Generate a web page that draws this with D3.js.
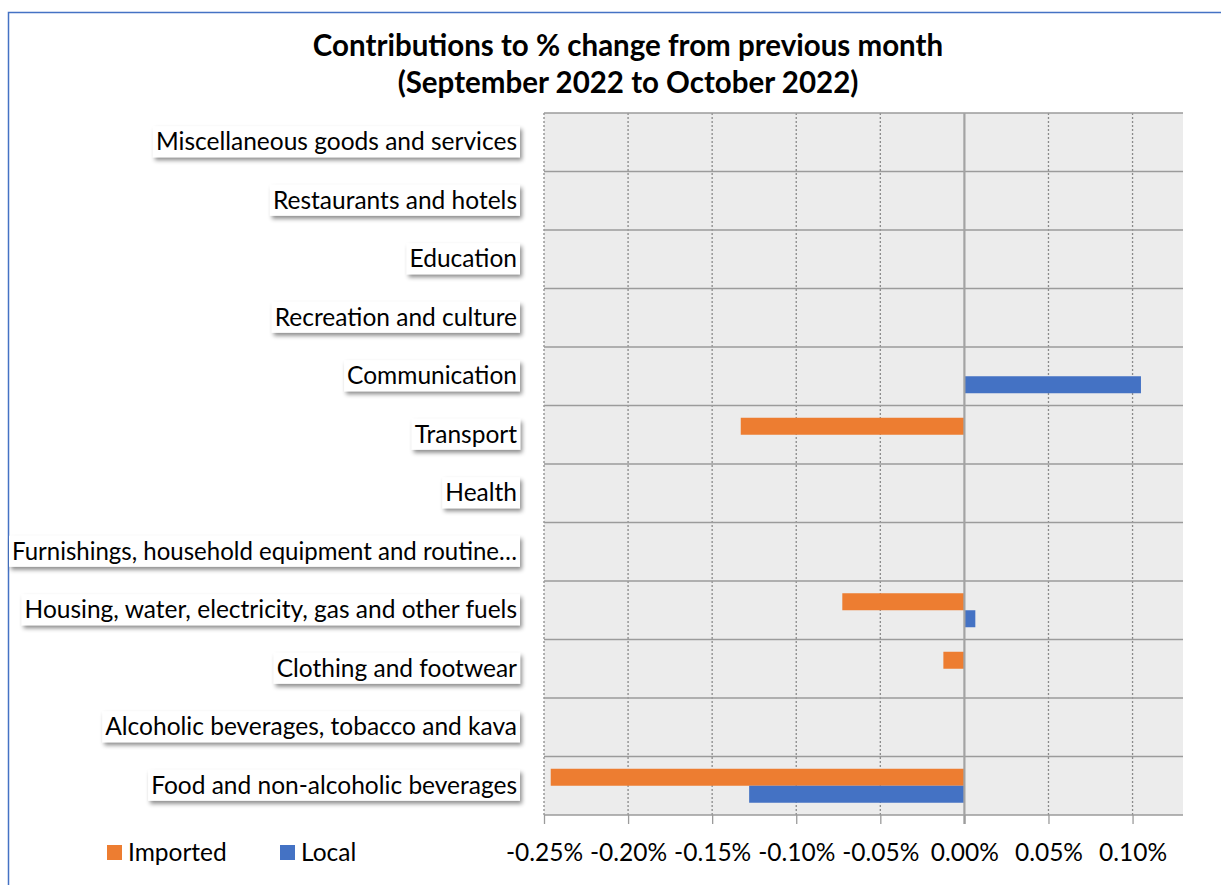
<!DOCTYPE html>
<html lang="en">
<head>
    <meta charset="UTF-8">
    <title>Contributions to % change</title>
    <style>
        body { margin: 0; background: #fff; }
        svg { display: block; font-family: Lato, "Noto Sans", sans-serif; }
    </style>
</head>
<body>
<svg></svg>
<script src="https://d3js.org/d3.v7.min.js"></script>
<script>
    /* data (top row first), values in % */
    const categories = [
        "Miscellaneous goods and services",
        "Restaurants and hotels",
        "Education",
        "Recreation and culture",
        "Communication",
        "Transport",
        "Health",
        "Furnishings, household equipment and routine\u2026",
        "Housing, water, electricity, gas and other fuels",
        "Clothing and footwear",
        "Alcoholic beverages, tobacco and kava",
        "Food and non-alcoholic beverages"
    ];
    const seriesNames = ["Imported", "Local"];
    const imported = [0, 0, 0, 0, 0, -0.133, 0, 0, -0.0726, -0.0125, 0, -0.246];
    const local = [0, 0, 0, 0, 0.105, 0, 0, 0, 0.0065, 0, 0, -0.128];
    const tickValues = [-0.25, -0.20, -0.15, -0.10, -0.05, 0, 0.05, 0.10];
    const colors = ["#ed7d31", "#4472c4"];

    /* layout */
    const width = 1221;
    const height = 885;
    const plot = {left: 544, right: 1183, top: 113, bottom: 815};
    const labelSize = 24.5;
    const maxLabelWidth = 505;

    const svg = d3.select("svg")
        .attr("width", width)
        .attr("height", height);

    const defs = svg.append("defs");
    defs.append("filter")
        .attr("id", "shadow")
        .attr("x", "-10%").attr("y", "-30%")
        .attr("width", "120%").attr("height", "170%")
        .append("feDropShadow")
        .attr("dx", 2).attr("dy", 3)
        .attr("stdDeviation", 2)
        .attr("flood-color", "#000")
        .attr("flood-opacity", 0.45);

    /* chart frame */
    svg.append("rect")
        .attr("x", 8.5).attr("y", 12.5)
        .attr("width", 1300).attr("height", 1000)
        .attr("fill", "#fff")
        .attr("stroke", "#4472c4")
        .attr("stroke-width", 1.5);

    /* title */
    const title = svg.append("text")
        .attr("text-anchor", "middle")
        .attr("font-weight", "bold")
        .attr("font-size", 29.5)
        .attr("fill", "#000");
    title.append("tspan").attr("x", 628).attr("y", 56)
        .text("Contributions to % change from previous month");
    title.append("tspan").attr("x", 628).attr("y", 93)
        .text("(September 2022 to October 2022)");

    /* scales */
    const x = d3.scaleLinear()
        .domain([-0.25, 0.13])
        .range([plot.left, plot.right]);
    const y = d3.scaleBand()
        .domain(categories)
        .range([plot.top, plot.bottom]);
    const barH = 17;
    const inner = d3.scaleBand()
        .domain(seriesNames)
        .range([y.bandwidth() / 2 - barH, y.bandwidth() / 2 + barH]);

    /* plot area */
    svg.append("rect")
        .attr("x", plot.left).attr("y", plot.top)
        .attr("width", plot.right - plot.left)
        .attr("height", plot.bottom - plot.top)
        .attr("fill", "#ececec");

    /* vertical dotted gridlines */
    svg.append("g")
        .selectAll("line")
        .data(tickValues.filter(d => d !== 0))
        .join("line")
        .attr("x1", d => x(d)).attr("x2", d => x(d))
        .attr("y1", plot.top).attr("y2", plot.bottom)
        .attr("stroke", "#8a8a8a")
        .attr("stroke-width", 1.3)
        .attr("stroke-dasharray", "2,2");

    /* horizontal category lines */
    const bounds = categories.map(c => y(c)).concat([plot.bottom]);
    svg.append("g")
        .selectAll("line")
        .data(bounds)
        .join("line")
        .attr("x1", plot.left).attr("x2", plot.right)
        .attr("y1", d => d).attr("y2", d => d)
        .attr("stroke", "#9b9b9b")
        .attr("stroke-width", 1.5);

    /* bars */
    const rows = categories.map((c, i) => ({cat: c, values: [imported[i], local[i]]}));
    const groups = svg.append("g")
        .selectAll("g")
        .data(rows)
        .join("g")
        .attr("transform", d => `translate(0,${y(d.cat)})`);
    groups.selectAll("rect")
        .data(d => d.values.map((v, k) => ({name: seriesNames[k], v: v, k: k})))
        .join("rect")
        .attr("x", d => x(Math.min(0, d.v)))
        .attr("width", d => Math.abs(x(d.v) - x(0)))
        .attr("y", d => inner(d.name))
        .attr("height", inner.bandwidth())
        .attr("fill", d => colors[d.k]);

    /* zero line */
    svg.append("line")
        .attr("x1", x(0)).attr("x2", x(0))
        .attr("y1", plot.top).attr("y2", plot.bottom + 9)
        .attr("stroke", "#a3a3a3")
        .attr("stroke-width", 2.2);

    /* x axis */
    const xAxis = svg.append("g")
        .attr("transform", `translate(0,${plot.bottom})`)
        .call(d3.axisBottom(x)
            .tickValues(tickValues)
            .tickSize(9)
            .tickFormat(d => d.toFixed(2) + "%"));
    xAxis.select(".domain").remove();
    xAxis.selectAll(".tick line").attr("stroke", "#9b9b9b").attr("stroke-width", 1.3);
    xAxis.selectAll(".tick text")
        .attr("y", 46)
        .attr("dy", 0)
        .attr("font-size", labelSize)
        .attr("font-family", "Lato, 'Noto Sans', sans-serif")
        .attr("fill", "#000");

    /* category labels in boxes */
    const labels = svg.append("g")
        .selectAll("g")
        .data(categories)
        .join("g")
        .attr("transform", d => `translate(517,${y(d) + y.bandwidth() / 2 + 8})`);
    labels.append("text")
        .attr("text-anchor", "end")
        .attr("font-size", labelSize)
        .attr("fill", "#000")
        .text(d => d);
    labels.each(function() {
        const g = d3.select(this);
        const t = g.select("text");
        if (t.node().getComputedTextLength() > maxLabelWidth) {
            t.attr("textLength", maxLabelWidth).attr("lengthAdjust", "spacingAndGlyphs");
        }
        const bb = t.node().getBBox();
        g.insert("rect", "text")
            .attr("x", bb.x - 3)
            .attr("y", -24)
            .attr("width", bb.width + 6)
            .attr("height", 31)
            .attr("fill", "#fff")
            .attr("filter", "url(#shadow)");
    });

    /* legend */
    const legendX = [107, 280];
    const legend = svg.append("g")
        .selectAll("g")
        .data(seriesNames)
        .join("g")
        .attr("transform", (d, i) => `translate(${legendX[i]},845)`);
    legend.append("rect")
        .attr("width", 15).attr("height", 15)
        .attr("fill", (d, i) => colors[i]);
    legend.append("text")
        .attr("x", 21).attr("y", 16)
        .attr("font-size", labelSize)
        .attr("fill", "#000")
        .text(d => d);
</script>
</body>
</html>
